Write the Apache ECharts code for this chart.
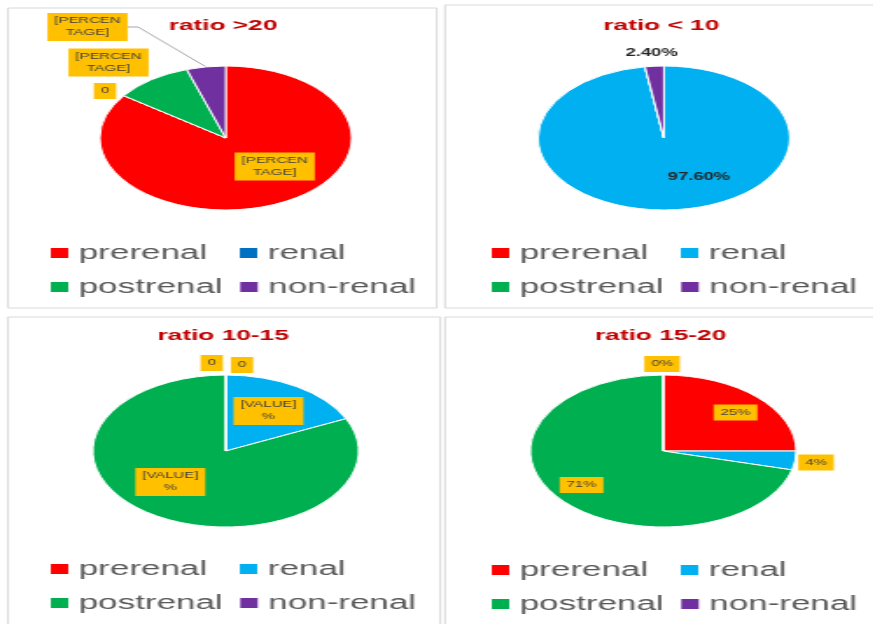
<!DOCTYPE html>
<html>
<head>
<meta charset="utf-8">
<script src="https://cdn.jsdelivr.net/npm/echarts@6/dist/echarts.min.js"></script>
<style>
  html, body { margin: 0; padding: 0; background: #fff; overflow: hidden; }
  /* the source picture is stretched sideways, so the whole chart is drawn narrow and stretched */
  #chart {
    width: 499px;
    height: 624px;
    transform: scaleX(1.75);
    transform-origin: 0 0;
  }
</style>
</head>
<body>
<div id="chart"></div>
<script>
const categories = ['prerenal', 'renal', 'postrenal', 'non-renal'];
const titles = ['ratio >20', 'ratio < 10', 'ratio 10-15', 'ratio 15-20'];

const valuesGt20 = [85, 0, 10, 5];
const valuesLt10 = [0, 97.6, 0, 2.4];
const values10to15 = [0, 18, 82, 0];
const values15to20 = [25, 4, 71, 0];

const labelsGt20 = ['[PERCEN\nTAGE]', '0', '[PERCEN\nTAGE]', '[PERCEN\nTAGE]'];
const labelsLt10 = ['', '97.60%', '', '2.40%'];
const labels10to15 = ['0', '[VALUE]\n%', '[VALUE]\n%', '0'];
const labels15to20 = ['25%', '4%', '71%', '0%'];

const sliceColors = ['#ff0000', '#00b0f0', '#00b050', '#7030a0'];
const FONT = '"Liberation Sans", Arial, sans-serif';

// per panel: pie centre, radius, legend place, label spots (offset from the pie centre)
const panels = [
  {values: valuesGt20, labels: labelsGt20, center: [129, 138], radius: 72, legend: [27, 240],
   inside: [true, false, false, false], hidden: [false, false, false, false], line: 3,
   boxed: true, renalColor: '#0070c0',
   spots: [[28, 28.5], [-69, -47], [-67, -75.5], [-79, -111]]},
  {values: valuesLt10, labels: labelsLt10, center: [379.4, 138], radius: 72, legend: [279, 240],
   inside: [false, true, false, false], hidden: [true, false, true, false], line: -1,
   boxed: false, renalColor: '#00b0f0',
   spots: [[0, 0], [20, 39], [0, 0], [-7, -85]]},
  {values: values10to15, labels: labels10to15, center: [129, 451], radius: 76, legend: [27, 556],
   inside: [false, true, true, false], hidden: [false, false, false, false], line: -1,
   boxed: true, renalColor: '#00b0f0',
   spots: [[9.3, -86], [24.4, -40], [-31.7, 31], [-8, -88]]},
  {values: values15to20, labels: labels15to20, center: [379, 451], radius: 76, legend: [279, 557],
   inside: [true, false, true, false], hidden: [false, false, false, false], line: -1,
   boxed: true, renalColor: '#00b0f0',
   spots: [[41.3, -38.5], [87.3, 11.5], [-46.7, 34], [-0.7, -87]]}
];

let chartDom = document.getElementById('chart');
let myChart = echarts.init(chartDom);

let series = panels.map(function (p, k) {
  return {
    type: 'pie',
    name: titles[k],
    center: p.center,
    radius: p.radius,
    startAngle: 90,
    clockwise: true,
    avoidLabelOverlap: false,
    silent: true,
    itemStyle: {borderColor: '#ffffff', borderWidth: 1},
    labelLine: {show: false, length: 8, length2: 0},
    labelLayout: function (params) {
      let s = p.spots[params.dataIndex];
      return {
        x: p.center[0] + s[0],
        y: p.center[1] + s[1],
        align: 'center',
        verticalAlign: 'middle'
      };
    },
    data: categories.map(function (c, i) {
      return {
        name: c,
        value: p.values[i],
        itemStyle: {color: sliceColors[i]},
        label: {
          show: !p.hidden[i],
          position: p.inside[i] ? 'inside' : 'outside',
          formatter: p.labels[i],
          fontFamily: FONT,
          fontSize: p.boxed ? 8.5 : 10.5,
          fontWeight: p.boxed ? 'normal' : 'bold',
          lineHeight: 12,
          color: p.boxed ? '#404040' : '#262626',
          backgroundColor: p.boxed ? '#ffc000' : 'transparent',
          padding: p.boxed ? [2, 4] : 0
        },
        labelLine: {
          show: p.line === i,
          length: 8,
          length2: 6,
          lineStyle: {color: '#a6a6a6', width: 1}
        }
      };
    })
  };
});

let legends = panels.map(function (p, k) {
  return {
    left: p.legend[0],
    top: p.legend[1],
    width: 240,
    padding: 0,
    orient: 'horizontal',
    selectedMode: false,
    icon: 'rect',
    itemWidth: 12,
    itemHeight: 12,
    itemGap: 8,
    textStyle: {fontFamily: FONT, fontSize: 20, color: '#595959', width: 82, lineHeight: 26},
    data: categories.map(function (c, i) {
      return {name: c, itemStyle: {color: i === 1 ? p.renalColor : sliceColors[i]}};
    })
  };
});

let titleList = panels.map(function (p, k) {
  return {
    text: titles[k],
    left: p.center[0] - 1.5,
    top: k < 2 ? 18 : 328,
    padding: 0,
    textAlign: 'center',
    textStyle: {fontFamily: FONT, fontSize: 15, fontWeight: 'bold', color: '#c00000'}
  };
});

let option;
option = {
  animation: false,
  backgroundColor: '#ffffff',
  textStyle: {fontFamily: FONT},
  title: titleList,
  legend: legends,
  graphic: [
    {type: 'rect', shape: {x: 4.6, y: 8, width: 245, height: 300}, style: {fill: 'none', stroke: '#d9d9d9', lineWidth: 1}},
    {type: 'rect', shape: {x: 254.3, y: 5, width: 260, height: 303}, style: {fill: 'none', stroke: '#d9d9d9', lineWidth: 1}},
    {type: 'rect', shape: {x: 4.6, y: 317, width: 247, height: 320}, style: {fill: 'none', stroke: '#d9d9d9', lineWidth: 1}},
    {type: 'rect', shape: {x: 254.3, y: 317, width: 260, height: 320}, style: {fill: 'none', stroke: '#d9d9d9', lineWidth: 1}}
  ],
  series: series
};
option && myChart.setOption(option);
</script>
</body>
</html>
